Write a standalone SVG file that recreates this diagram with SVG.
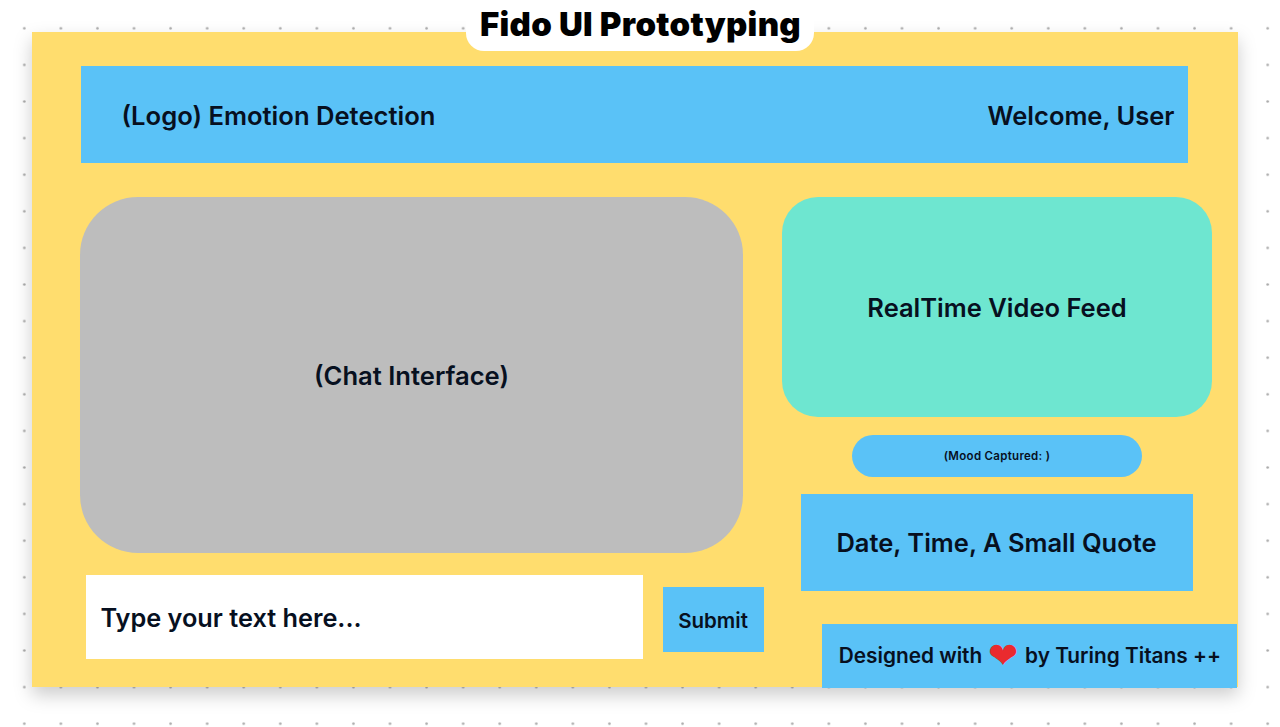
<svg xmlns="http://www.w3.org/2000/svg" width="1280" height="727" viewBox="0 0 1280 727">
<style>
text{font-family:Inter,"Liberation Sans",sans-serif;fill:#07101f;font-weight:560;text-anchor:middle;dominant-baseline:central}
.b{fill:#5ac2f7}
</style>
<defs>
<pattern id="dots" x="6" y="10" width="36.57" height="36.6" patternUnits="userSpaceOnUse"><circle cx="18.3" cy="18.3" r="1.3" fill="#a9a9a9"/></pattern>
<filter id="sh" x="-5%" y="-5%" width="110%" height="115%"><feDropShadow dx="0" dy="8" stdDeviation="9" flood-color="#000" flood-opacity=".2"/></filter>
</defs>
<rect id="background" width="1280" height="727" fill="#fff"/>
<rect id="grid" width="1280" height="727" fill="url(#dots)"/>
<rect id="board" x="32" y="32" width="1206" height="655" fill="#ffdd6e" filter="url(#sh)"/>
<g id="title"><rect x="466" y="-20" width="348" height="71" rx="18" fill="#fff"/><text x="640.500" y="24" font-size="33" style="font-weight:900;fill:#000;letter-spacing:.3px">Fido UI Prototyping</text></g>
<g id="header"><rect class="b" x="81" y="66" width="1107" height="97"/><text x="278.500" y="115.500" font-size="25.600">(Logo) Emotion Detection</text><text x="1081" y="115.500" font-size="25.500">Welcome, User</text></g>
<g id="chat"><rect x="80" y="197" width="663" height="356" rx="58" fill="#bdbdbd"/><text x="411.500" y="375.500" font-size="25.600">(Chat Interface)</text></g>
<g id="video"><rect x="782" y="197" width="430" height="220" rx="36" fill="#6ee6d0"/><text x="997" y="307.500" font-size="25.500">RealTime Video Feed</text></g>
<g id="mood"><rect class="b" x="852" y="435" width="290" height="42" rx="21"/><text x="997" y="455.500" font-size="11.500" style="letter-spacing:.3px">(Mood Captured: )</text></g>
<g id="quote"><rect class="b" x="801" y="494" width="392" height="97"/><text x="996.500" y="542.500" font-size="25.500">Date, Time, A Small Quote</text></g>
<g id="input"><rect x="86" y="575" width="557" height="84" fill="#fff"/><text x="231" y="617.500" font-size="25.300">Type your text here...</text></g>
<g id="submit"><rect class="b" x="663" y="587" width="101" height="65"/><text x="713" y="620.500" font-size="20.500">Submit</text></g>
<g id="footer"><rect class="b" x="822" y="624" width="415" height="64"/><text x="910.500" y="655.500" font-size="20.800">Designed with</text><text x="1003" y="655" font-size="36" style="font-family:'DejaVu Sans',sans-serif;fill:#ea2a2e">❤</text><text x="1123" y="655.500" font-size="20.800">by Turing Titans ++</text></g>
</svg>
